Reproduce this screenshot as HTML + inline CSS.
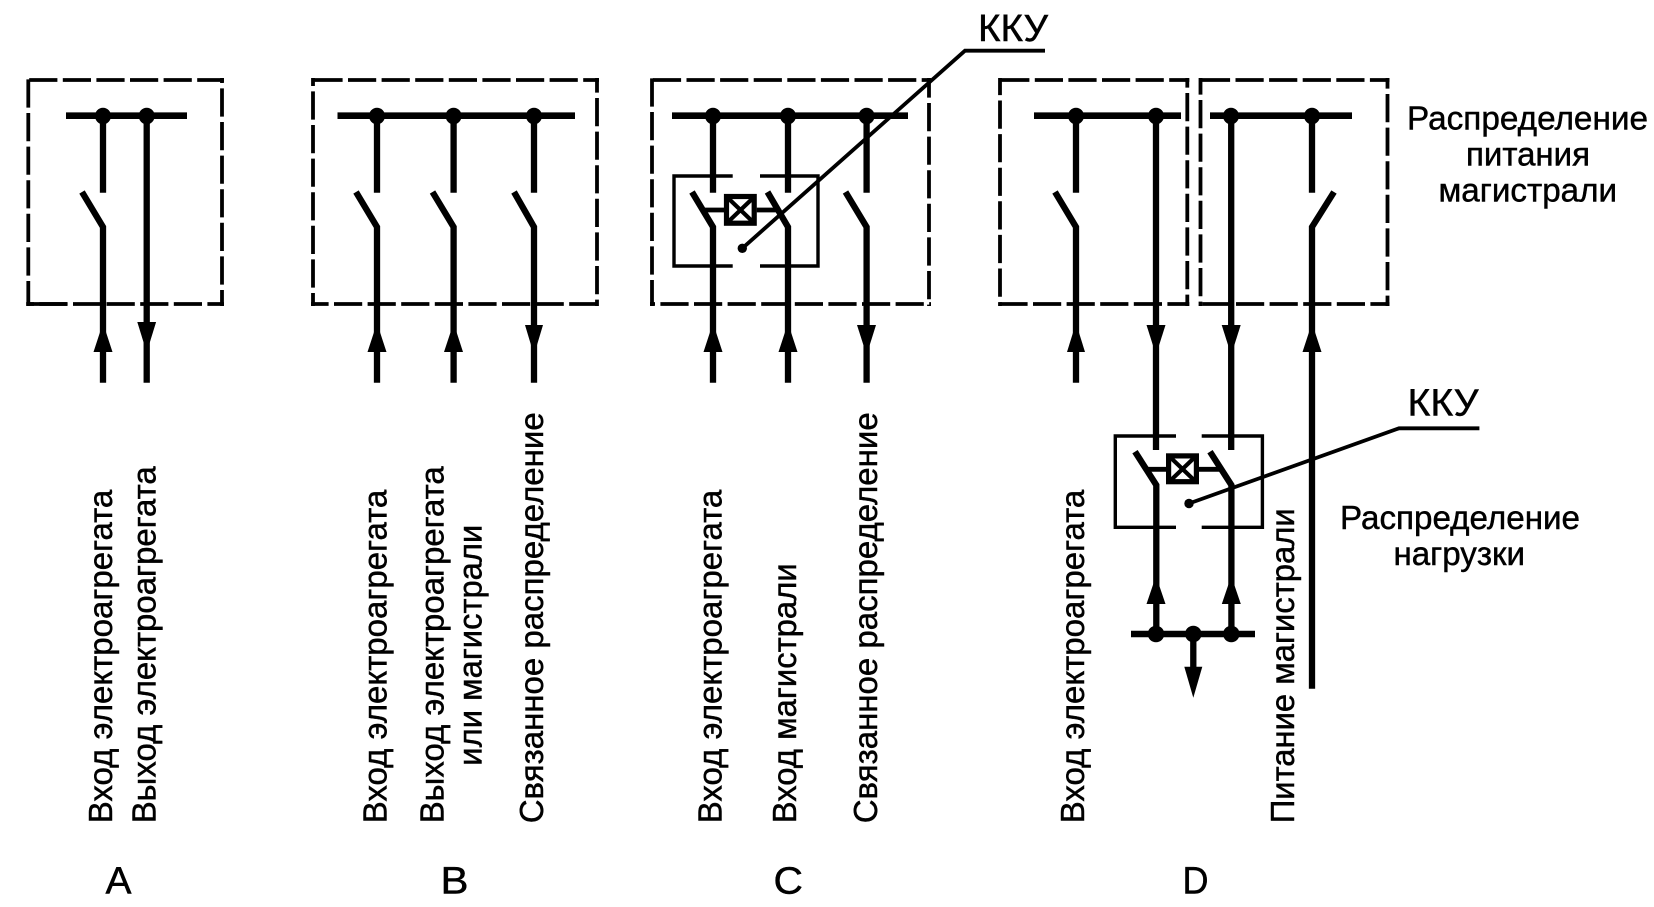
<!DOCTYPE html>
<html lang="ru">
<head>
<meta charset="utf-8">
<title>Распределение питания</title>
<style>
html,body{margin:0;padding:0;background:#fff;width:1654px;height:907px;overflow:hidden}
svg{display:block}
text{font-family:"Liberation Sans",Arial,sans-serif;fill:#000;stroke:#000;stroke-width:.45}
.d{fill:none;stroke:#000;stroke-width:3.8;stroke-dasharray:28.2 5.4}
.l{fill:none;stroke:#000;stroke-width:6.3}
.b{fill:none;stroke:#000;stroke-width:6.6}
.t{fill:none;stroke:#000;stroke-width:3.4}
.s{fill:none;stroke:#000;stroke-width:4.8}
.x{fill:none;stroke:#000;stroke-width:4.2}
.v{font-size:33.5px}
.r{font-size:33px}
.c{font-size:38px}
</style>
</head>
<body>
<svg width="1654" height="907" viewBox="0 0 1654 907" xmlns="http://www.w3.org/2000/svg">
<rect width="1654" height="907" fill="#fff"/>

<!-- Dashed frames: each side has its own dash phase -->
<path class="d" style="stroke-dashoffset:-2.9" d="M26.3 80H224"/>
<path class="d" style="stroke-dashoffset:-1.4" d="M28.3 78V306"/>
<path class="d" style="stroke-dashoffset:-10.4" d="M222 78V306"/>
<path class="d" style="stroke-dashoffset:-13.1" d="M26.3 304H224"/>
<path fill="none" stroke="#000" stroke-width="3.8" d="M26.3 304H67"/>

<path class="d" style="stroke-dashoffset:-3.4" d="M311 80H599"/>
<path class="d" style="stroke-dashoffset:-13.4" d="M313 78V306"/>
<path class="d" style="stroke-dashoffset:13.6" d="M597 78V306"/>
<path class="d" style="stroke-dashoffset:10.6" d="M311 304H599"/>

<path class="d" style="stroke-dashoffset:-2.9" d="M650 80H931"/>
<path class="d" style="stroke-dashoffset:-.4" d="M652 78V306"/>
<path class="d" style="stroke-dashoffset:8.6" d="M929 78V306"/>
<path class="d" style="stroke-dashoffset:-10.4" d="M650 304H931"/>

<path class="d" style="stroke-dashoffset:-3.2" d="M998 80H1189.3"/>
<path class="d" style="stroke-dashoffset:11.1" d="M1000 78V306"/>
<path class="d" style="stroke-dashoffset:18.6" d="M1187.3 78V306"/>
<path class="d" style="stroke-dashoffset:-1.4" d="M998 304H1189.3"/>

<path class="d" style="stroke-dashoffset:-3.4" d="M1198.5 80H1389.5"/>
<path class="d" style="stroke-dashoffset:11.6" d="M1200.5 78V306"/>
<path class="d" style="stroke-dashoffset:17.6" d="M1387.5 78V306"/>
<path class="d" style="stroke-dashoffset:-3.9" d="M1198.5 304H1389.5"/>

<!-- Busbars -->
<path class="b" d="M66 115.7H187M337.5 115.7H575M672 115.7H908M1034 115.7H1181M1210 115.7H1352M1131 634H1255"/>

<!-- Bus dots -->
<g fill="#000">
<ellipse cx="103" cy="116" rx="8" ry="8.3"/><ellipse cx="146.7" cy="116" rx="8" ry="8.3"/>
<ellipse cx="377" cy="116" rx="8" ry="8.3"/><ellipse cx="453.6" cy="116" rx="8" ry="8.3"/><ellipse cx="534" cy="116" rx="8" ry="8.3"/>
<ellipse cx="713" cy="116" rx="8" ry="8.3"/><ellipse cx="788" cy="116" rx="8" ry="8.3"/><ellipse cx="866.6" cy="116" rx="8" ry="8.3"/>
<ellipse cx="1076" cy="116" rx="8" ry="8.3"/><ellipse cx="1156" cy="116" rx="8" ry="8.3"/>
<ellipse cx="1231" cy="116" rx="8" ry="8.3"/><ellipse cx="1312" cy="116" rx="8" ry="8.3"/>
<ellipse cx="1156" cy="634" rx="8.3" ry="8.3"/><ellipse cx="1193.3" cy="634" rx="8.3" ry="8.3"/><ellipse cx="1231.3" cy="634" rx="8.3" ry="8.3"/>
</g>

<!-- Vertical conductors and switch blades -->
<path class="l" d="M103 116V192.7M82 192L103 227V382.7"/>
<path class="l" d="M146.7 116V382.7"/>
<path class="l" d="M377 116V192.7M356 192L377 227V382.7"/>
<path class="l" d="M453.6 116V192.7M432.5 192L453.6 227V382.7"/>
<path class="l" d="M534 116V192.7M514 192L534 227V382.7"/>
<path class="l" d="M713 116V192.7M692 192L713 227V382.7"/>
<path class="l" d="M788 116V192.7M767.5 192L788 227V382.7"/>
<path class="l" d="M866.6 116V192.7M845.5 192L866.6 227V382.7"/>
<path class="l" d="M1076 116V192.7M1055 192L1076 227V382.7"/>
<path class="l" d="M1156 116V450M1135 451.7L1156.3 485V634"/>
<path class="l" d="M1231.2 116V450M1210 451.7L1231.4 485V634"/>
<path class="l" d="M1312 116V192.7M1334 192L1312 227V688.7"/>
<path class="l" d="M1193.3 634V668"/>

<!-- Arrowheads -->
<g fill="#000">
<polygon points="103,323 93.5,352 112.5,352"/>
<polygon points="137.3,322 156.1,322 146.7,352.5"/>
<polygon points="377,323 367.5,352 386.5,352"/>
<polygon points="453.6,323 444,352 463,352"/>
<polygon points="525,325 543,325 534,355"/>
<polygon points="713,323 703.5,352 722.5,352"/>
<polygon points="788,323 778.5,352 797.5,352"/>
<polygon points="857,325 876,325 866.6,355"/>
<polygon points="1076,323 1067,352 1085,352"/>
<polygon points="1146.5,325 1165.5,325 1156,355"/>
<polygon points="1221.7,325 1240.7,325 1231.2,355"/>
<polygon points="1312,323 1302.5,352 1321.5,352"/>
<polygon points="1156,576 1146.5,604 1165.5,604"/>
<polygon points="1231.3,576 1221.8,604 1240.8,604"/>
<polygon points="1184.3,666.7 1202.3,666.7 1193.3,697.7"/>
</g>

<!-- KKU box C -->
<path class="t" d="M732.7 176H674V266H732.7M760 176H818V266H760"/>
<path class="s" d="M703 210H724M756.7 210H776"/>
<rect x="726.5" y="196.5" width="27.7" height="26.7" fill="#fff" stroke="#000" stroke-width="5.2"/>
<path class="x" d="M729 199L752 221M752 199L729 221"/>
<circle cx="742.3" cy="248.3" r="4.7" fill="#000"/>
<path fill="none" stroke="#000" stroke-width="3.8" d="M742.3 248.3L965 50.7H1045"/>

<!-- KKU box D -->
<path class="t" d="M1176 436H1115.3V527.3H1176M1201.7 436H1262.4V527.3H1201.7"/>
<path class="s" d="M1146.7 469.3H1167M1199 469.3H1220"/>
<rect x="1168.6" y="455.9" width="27.8" height="25.8" fill="#fff" stroke="#000" stroke-width="5.2"/>
<path class="x" d="M1171 458L1194 480M1194 458L1171 480"/>
<circle cx="1189" cy="503.5" r="4.7" fill="#000"/>
<path fill="none" stroke="#000" stroke-width="3.8" d="M1189 503.5L1399 428.3H1479.4"/>

<!-- Callout labels -->
<text x="978" y="41" font-size="38" textLength="70" lengthAdjust="spacingAndGlyphs">ККУ</text>
<text x="1407.5" y="415.7" font-size="38" textLength="71" lengthAdjust="spacingAndGlyphs">ККУ</text>

<!-- Side labels -->
<text class="r" x="1407" y="129.5" textLength="241" lengthAdjust="spacingAndGlyphs">Распределение</text>
<text class="r" x="1466" y="165.5" textLength="124" lengthAdjust="spacingAndGlyphs">питания</text>
<text class="r" x="1438.5" y="201.7" textLength="178.5" lengthAdjust="spacingAndGlyphs">магистрали</text>
<text class="r" x="1340" y="529" textLength="240" lengthAdjust="spacingAndGlyphs">Распределение</text>
<text class="r" x="1393.5" y="565" textLength="131.5" lengthAdjust="spacingAndGlyphs">нагрузки</text>

<!-- Vertical labels -->
<text class="v" transform="translate(112 823.3) rotate(-90)" textLength="333.5" lengthAdjust="spacingAndGlyphs">Вход электроагрегата</text>
<text class="v" transform="translate(155.6 823.3) rotate(-90)" textLength="357" lengthAdjust="spacingAndGlyphs">Выход электроагрегата</text>
<text class="v" transform="translate(386.4 823.3) rotate(-90)" textLength="333.5" lengthAdjust="spacingAndGlyphs">Вход электроагрегата</text>
<text class="v" transform="translate(443.4 823.3) rotate(-90)" textLength="357" lengthAdjust="spacingAndGlyphs">Выход электроагрегата</text>
<text class="v" transform="translate(481.4 765.7) rotate(-90)" textLength="241" lengthAdjust="spacingAndGlyphs">или магистрали</text>
<text class="v" transform="translate(543.2 823.3) rotate(-90)" textLength="411" lengthAdjust="spacingAndGlyphs">Связанное распределение</text>
<text class="v" transform="translate(721.3 823.3) rotate(-90)" textLength="333.5" lengthAdjust="spacingAndGlyphs">Вход электроагрегата</text>
<text class="v" transform="translate(796.2 823.3) rotate(-90)" textLength="260" lengthAdjust="spacingAndGlyphs">Вход магистрали</text>
<text class="v" transform="translate(876.8 823.3) rotate(-90)" textLength="411" lengthAdjust="spacingAndGlyphs">Связанное распределение</text>
<text class="v" transform="translate(1084.2 823.3) rotate(-90)" textLength="333.5" lengthAdjust="spacingAndGlyphs">Вход электроагрегата</text>
<text class="v" transform="translate(1294.2 823.3) rotate(-90)" textLength="315" lengthAdjust="spacingAndGlyphs">Питание магистрали</text>

<!-- Variant letters -->
<text class="c" x="105.5" y="893.3" textLength="26" lengthAdjust="spacingAndGlyphs">A</text>
<text class="c" x="440.5" y="893.3" textLength="28" lengthAdjust="spacingAndGlyphs">B</text>
<text class="c" x="773.5" y="893.3" textLength="29.5" lengthAdjust="spacingAndGlyphs">C</text>
<text class="c" x="1182.5" y="893.3" textLength="26" lengthAdjust="spacingAndGlyphs">D</text>
</svg>
</body>
</html>
